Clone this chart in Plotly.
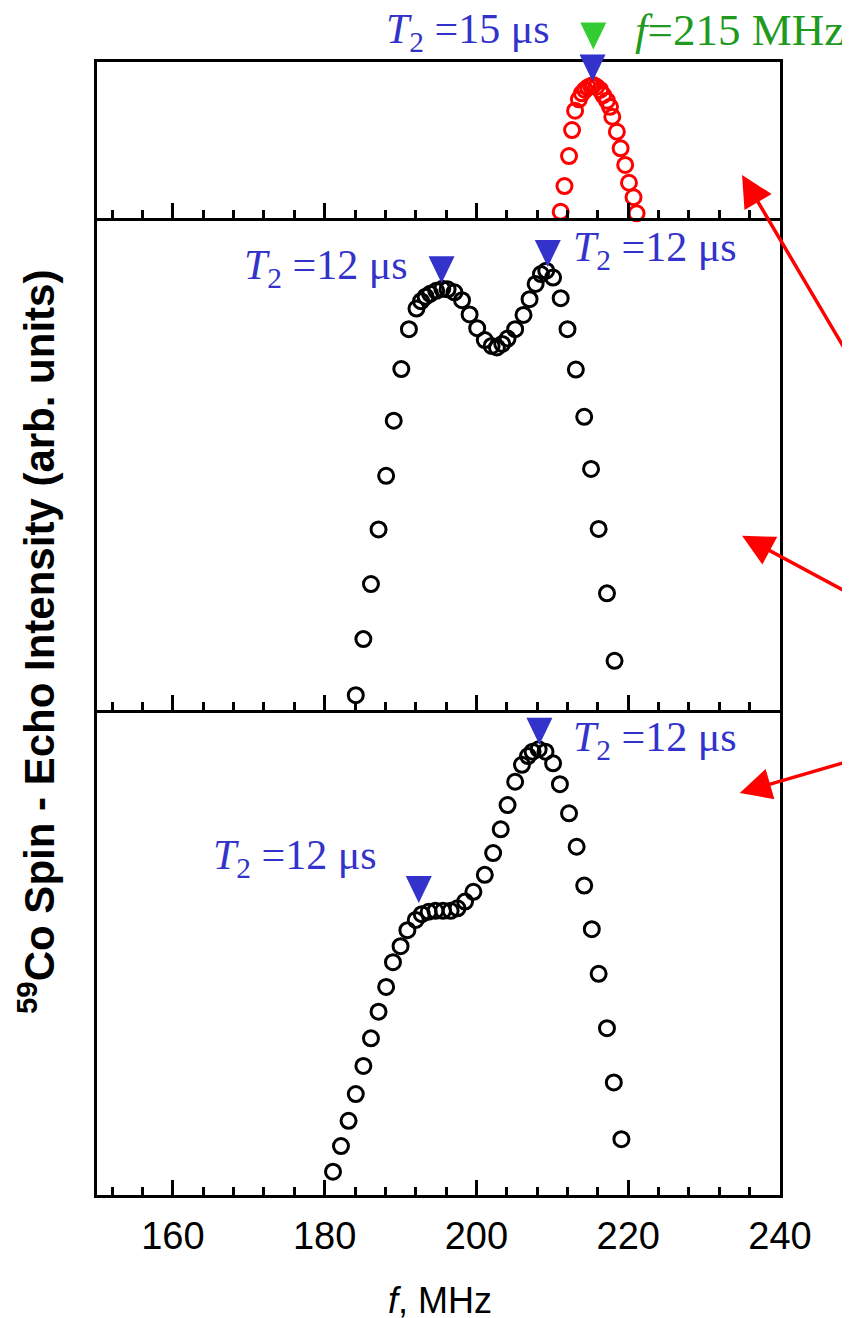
import plotly.graph_objects as go

# ---------------- data ----------------
# top panel (red, f = 215 MHz excitation)
f_top = [211.1, 211.6, 212.2, 212.6, 213.0, 213.5, 213.9, 214.3, 214.7, 215.1, 215.4,
         215.8, 216.3, 216.7, 217.2, 217.6, 217.9, 218.5, 219.0, 219.6, 220.1, 220.7, 221.1]
i_top = [0.04, 0.205, 0.397, 0.564, 0.688, 0.761, 0.799, 0.821, 0.838, 0.846, 0.853,
         0.842, 0.821, 0.788, 0.752, 0.713, 0.649, 0.553, 0.447, 0.340, 0.226, 0.133, 0.030]

# middle panel
f_mid = [184.1, 185.1, 186.1, 187.1, 188.1, 189.1, 190.1, 191.1, 192.1, 192.7, 193.3, 193.9,
         194.7, 195.5, 196.2, 197.1, 198.1, 199.1, 200.1, 201.1, 202.0, 202.7, 203.4, 204.1,
         205.1, 206.2, 207.0, 207.8, 208.5, 209.2, 210.1, 211.1, 212.0, 213.1, 214.2, 215.1,
         216.1, 217.2, 218.2]
i_mid = [0.030, 0.144, 0.256, 0.367, 0.476, 0.588, 0.693, 0.774, 0.816, 0.831, 0.840, 0.846,
         0.852, 0.856, 0.855, 0.849, 0.833, 0.804, 0.776, 0.752, 0.740, 0.737, 0.744, 0.755,
         0.774, 0.803, 0.835, 0.866, 0.886, 0.893, 0.879, 0.837, 0.774, 0.692, 0.596, 0.490,
         0.368, 0.237, 0.100]

# bottom panel
f_bot = [181.1, 182.15, 183.15, 184.1, 185.1, 186.1, 187.1, 188.1, 189.0, 190.0, 190.9, 192.0,
         192.8, 193.7, 194.6, 195.6, 196.6, 197.5, 198.5, 199.6, 201.1, 202.2, 203.2, 204.1,
         205.1, 206.0, 206.8, 207.4, 208.2, 209.1, 210.1, 211.0, 212.2, 213.2, 214.2, 215.2,
         216.1, 217.2, 218.1, 219.1]
i_bot = [0.048, 0.101, 0.153, 0.208, 0.266, 0.323, 0.378, 0.429, 0.480, 0.513, 0.546, 0.567,
         0.579, 0.584, 0.586, 0.586, 0.586, 0.591, 0.605, 0.625, 0.660, 0.705, 0.754, 0.804,
         0.852, 0.887, 0.905, 0.914, 0.919, 0.914, 0.890, 0.847, 0.787, 0.718, 0.638, 0.548,
         0.456, 0.344, 0.232, 0.115]

# x-axis ticks
x_range = [150, 240]
x_ticks = [160, 180, 200, 220, 240]

# T2 markers: (panel, f, y) and labels (panel, f, y, anchor, value)
t2_marks = [("top", 215.3, 0.965), ("mid", 195.4, 0.896), ("mid", 209.4, 0.929),
            ("bot", 208.3, 0.957), ("bot", 192.4, 0.631)]
t2_labels = [("top", 210.0, 1.19, "right", "15"), ("mid", 191.3, 0.898, "right", "12"),
             ("mid", 212.4, 0.935, "left", "12"), ("bot", 212.4, 0.938, "left", "12"),
             ("bot", 187.1, 0.695, "right", "12")]
f_exc = 215
# red arrows: (panel, head f, head y, tail dx px, tail dy px)
arrows = [("top", 235.0, 0.276, 140, 183), ("mid", 235.0, 0.354, 140, 58),
          ("bot", 234.7, 0.829, 140, -32)]

# ---------------- layout helpers ----------------
domains = {"bot": [0, 0.4281], "mid": [0.4281, 0.8623], "top": [0.8623, 1.0]}
yref = {"bot": "y", "mid": "y2", "top": "y3"}
xref = {"bot": "x", "mid": "x2", "top": "x3"}

def xp(f):  # data -> paper (x)
    return (f - x_range[0]) / (x_range[1] - x_range[0])

def yp(panel, v):  # panel value -> paper (y)
    d0, d1 = domains[panel]
    return d0 + v * (d1 - d0)

BLUE = "#3333cc"
GREEN = "#1f9a1f"
GREEN_TRI = "#33cc33"
SERIF = "Liberation Serif, Times New Roman, serif"
SANS = "Liberation Sans Narrow, Arial Narrow, Liberation Sans, Arial, sans-serif"

fig = go.Figure()

def circles(fx, iy, panel, color):
    fig.add_trace(go.Scatter(
        x=fx, y=iy, mode="markers", xaxis=xref[panel], yaxis=yref[panel],
        marker=dict(symbol="circle-open", size=15, color=color, line=dict(width=3, color=color)),
        showlegend=False, cliponaxis=False, hoverinfo="skip"))

circles(f_bot, i_bot, "bot", "black")
circles(f_mid, i_mid, "mid", "black")
circles(f_top, i_top, "top", "red")

shapes = []
tri = "M -13,13 L 13,13 L 0,-14 Z"
for panel, fx, yy in t2_marks:
    shapes.append(dict(type="path", xref="paper", yref="paper",
                       xsizemode="pixel", ysizemode="pixel", xanchor=xp(fx), yanchor=yp(panel, yy),
                       path=tri, fillcolor=BLUE, line=dict(width=0), layer="above"))
# green excitation marker (above the top frame)
shapes.append(dict(type="path", xref="paper", yref="paper", xsizemode="pixel", ysizemode="pixel",
                   xanchor=xp(f_exc + 0.4), yanchor=yp("top", 1.17), path=tri,
                   fillcolor=GREEN_TRI, line=dict(width=0), layer="above"))

annotations = []
for panel, fx, yy, anchor, val in t2_labels:
    annotations.append(dict(
        x=xp(fx), y=yp(panel, yy), xref="paper", yref="paper", xanchor=anchor, yanchor="middle",
        text=f"<i>T</i><sub>2</sub> ={val} μs", showarrow=False,
        font=dict(family=SERIF, size=42, color=BLUE)))
annotations.append(dict(
    x=xp(220.6), y=yp("top", 1.205), xref="paper", yref="paper", xanchor="left", yanchor="middle",
    text=f"<i>f</i>={f_exc} MHz", showarrow=False,
    font=dict(family=SERIF, size=45, color=GREEN)))

for panel, fx, yy, dx, dy in arrows:
    annotations.append(dict(
        x=xp(fx), y=yp(panel, yy), xref="paper", yref="paper", text="", showarrow=True,
        ax=dx, ay=dy, arrowhead=2, arrowsize=1.8, arrowwidth=3.5, arrowcolor="red",
        standoff=0))

annotations.append(dict(
    x=-0.088, y=0.488, xref="paper", yref="paper", textangle=-90, showarrow=False,
    text="<b><sup>59</sup>Co Spin - Echo Intensity (arb. units)</b>",
    font=dict(family=SANS, size=42, color="black"), xanchor="center", yanchor="middle"))
annotations.append(dict(
    x=0.502, y=-0.093, xref="paper", yref="paper", showarrow=False,
    text="<i>f</i>, MHz", font=dict(family=SANS, size=36, color="black"),
    xanchor="center", yanchor="middle"))

xbase = dict(range=x_range, tickmode="array", tickvals=x_ticks, ticks="inside",
             ticklen=15, tickwidth=3, tickcolor="black", showline=True, linewidth=3,
             linecolor="black", showgrid=False, zeroline=False,
             minor=dict(ticks="inside", dtick=4, tick0=0, ticklen=8, tickwidth=3,
                        tickcolor="black", showgrid=False))
ybase = dict(range=[0, 1], showticklabels=False, ticks="", showline=True, linewidth=3,
             linecolor="black", mirror=True, showgrid=False, zeroline=False)

# page body has an 8px margin: size the figure so the plot lands where the reference has it
fig.update_layout(
    width=842, height=1310,
    margin=dict(l=89, r=70, t=54, b=123),
    paper_bgcolor="white", plot_bgcolor="white",
    xaxis=dict(**xbase, anchor="y", showticklabels=True, mirror=False, ticklabelstandoff=5,
               tickfont=dict(family=SANS, size=38, color="black")),
    xaxis2=dict(**xbase, anchor="y2", showticklabels=False, matches="x", mirror=False),
    xaxis3=dict(**xbase, anchor="y3", showticklabels=False, matches="x", mirror=True),
    yaxis=dict(**ybase, domain=domains["bot"], anchor="x"),
    yaxis2=dict(**ybase, domain=domains["mid"], anchor="x2"),
    yaxis3=dict(**ybase, domain=domains["top"], anchor="x3"),
    shapes=shapes, annotations=annotations,
)

fig.write_html("out.html")
